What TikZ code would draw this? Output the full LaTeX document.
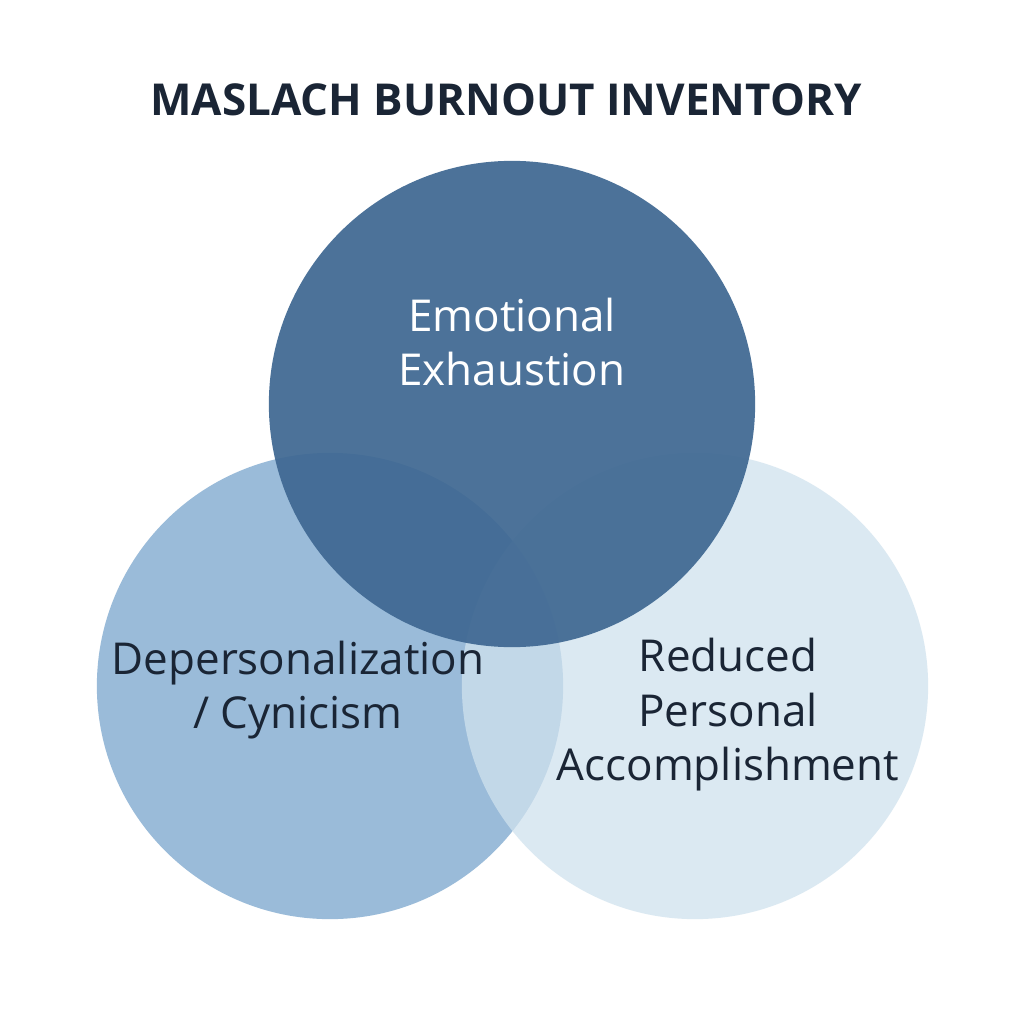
\documentclass[tikz,border=0pt]{standalone}
\usepackage{fontspec}
\setmainfont{Open Sans}
\usetikzlibrary{positioning}
\definecolor{topblue}{HTML}{3F6892}
\definecolor{leftblue}{HTML}{9ABBD9}
\definecolor{rightblue}{HTML}{D0E2EE}
\definecolor{inkdark}{HTML}{1A2535}
\tikzset{
    ring/.style={circle,inner sep=0pt},
    lbl/.style={align=center,font=\fontsize{12.5}{15.5}\selectfont}
}
\begin{document}
\begin{tikzpicture}[x=0.01cm,y=-0.01cm]
    \useasboundingbox[fill=white] (0,0) rectangle (1024,1024);
    \node[font=\bfseries\fontsize{12.5}{14}\selectfont,text=inkdark] (title) at (506,100) {MASLACH BURNOUT INVENTORY};
    % circles
    \node[ring,fill=leftblue,minimum size=4.66cm] (dp) at (330,686) {};
    \node[ring,fill=rightblue,fill opacity=0.75,minimum size=4.66cm] (rpa) at (695,686) {};
    \node[ring,fill=topblue,fill opacity=0.93,minimum size=4.86cm] (ee) at (512,404) {};
    % labels
    \node[lbl,text=white] (eelbl) at (512,342) {Emotional\\Exhaustion};
    \node[lbl,text=inkdark] (dplbl) at (298,690) {Depersonalization\\/ Cynicism};
    \node[lbl,text=inkdark] (rpalbl) at (728,715) {Reduced\\Personal\\Accomplishment};
\end{tikzpicture}
\end{document}
